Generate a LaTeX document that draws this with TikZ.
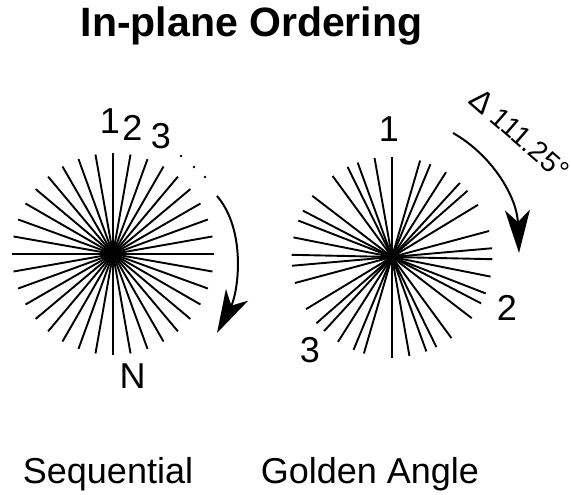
\documentclass[tikz,border=0pt]{standalone}
\usepackage{fontspec}
\setmainfont{Liberation Sans}
\usetikzlibrary{arrows.meta}
\tikzset{
  spoke/.style={line width=1.9pt, line cap=butt},
  bigarrow/.style={line width=2pt, -{Stealth[length=43pt,width=25pt,inset=12pt]}},
  biglabel/.style={inner sep=0pt, anchor=base, font=\fontsize{36}{40}\selectfont},
  titlelabel/.style={inner sep=0pt, anchor=base, font=\fontsize{41}{46}\selectfont\bfseries},
  anglelabel/.style={inner sep=0pt, font=\fontsize{28}{30}\selectfont},
  dotmark/.style={fill=black, draw=none}
}
\begin{document}
\begin{tikzpicture}[x=1pt,y=-1pt]
\useasboundingbox (0,0) rectangle (571,495);
% title and captions
\node[titlelabel] (title) at (251.5,37) {In-plane Ordering};
\node[biglabel] (seq) at (108,483) {Sequential};
\node[biglabel] (gold) at (370,483) {Golden Angle};
% left starburst (sequential)
\coordinate (lc) at (113,254);
\foreach \a in {0,10,...,170}{
  \draw[spoke] ({113+101*sin(\a)},{254-101*cos(\a)}) -- ({113-101*sin(\a)},{254+101*cos(\a)});
}
\fill (lc) circle (8);
\node[biglabel] (l1) at (110,133) {1};
\node[biglabel] (l2) at (132.5,140) {2};
\node[biglabel] (l3) at (161,148) {3};
\node[biglabel] (lN) at (132.5,388) {N};
\fill[dotmark] (181,156) circle (1.4);
\fill[dotmark] (194,167) circle (1.4);
\fill[dotmark] (205,177) circle (1.4);
\coordinate (la0) at (217,196);
\coordinate (la1) at (217,333);
\draw[bigarrow] (la0) .. controls (247,231) and (238,293) .. (la1);
% right starburst (golden angle)
\coordinate (rc) at (392,257);
\foreach \a in {0,16.25,22.5,32.5,42.5,48.75,58.75,75,85,91.25,101.25,111.25,117.5,127.5,143.75,153.75,160,170}{
  \draw[spoke] ({392+100.5*sin(\a)},{257-100.5*cos(\a)}) -- ({392-100.5*sin(\a)},{257+100.5*cos(\a)});
}
\fill (rc) circle (3.5);
\node[biglabel] (r1) at (389,142) {1};
\node[biglabel] (r2) at (507,320) {2};
\node[biglabel] (r3) at (310,362) {3};
\coordinate (ra0) at (453,133);
\coordinate (ra1) at (519,253);
\draw[bigarrow] (ra0) .. controls (492,155) and (517,197) .. (ra1);
\node[anglelabel, rotate=-41] (ang) at (520,134) {{\fontsize{31}{31}\selectfont Δ} 111.25°};
\end{tikzpicture}
\end{document}
